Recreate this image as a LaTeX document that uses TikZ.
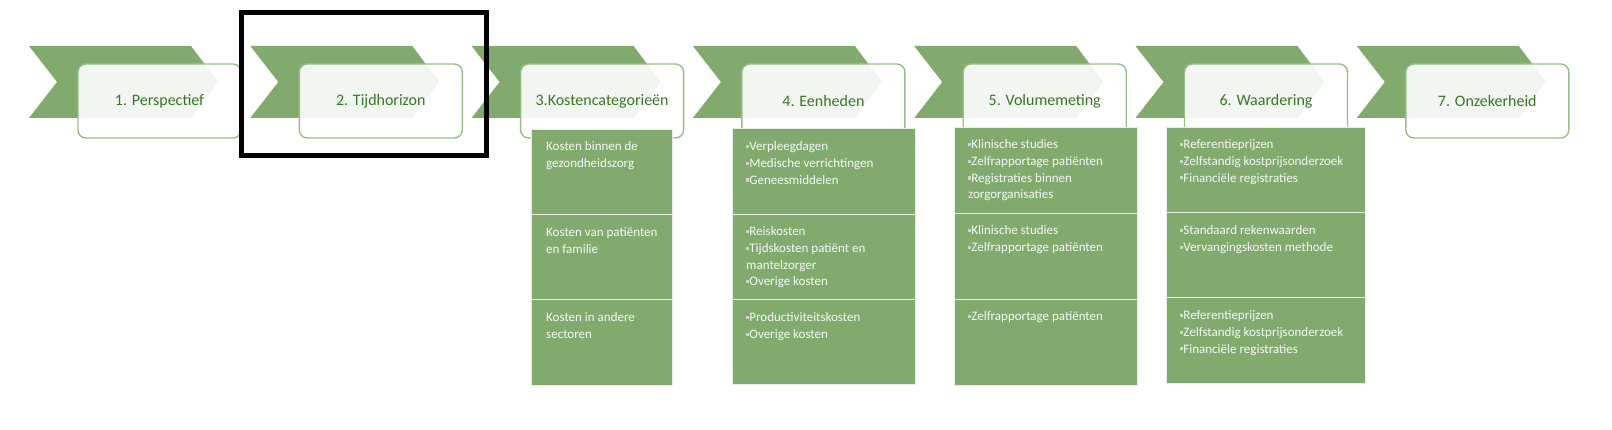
\documentclass[tikz,border=0pt]{standalone}
\usepackage{fontspec}
\setmainfont{Carlito}
\definecolor{pgreen}{HTML}{82AA6E}
\definecolor{tgreen}{HTML}{3A7628}
\definecolor{bgray}{HTML}{9CBB8C}
\newcommand\bl{{\color{white!55!pgreen}\rule[2.6pt]{3.2pt}{3.2pt}}}
\tikzset{
  chev/.style={fill=pgreen, draw=none},
  hbox/.style={draw=bgray, line width=1.4pt, rounded corners=8pt, fill=white, fill opacity=0.9, text opacity=1,
    minimum width=163pt, minimum height=74pt, inner sep=0pt, text=tgreen, font=\fontsize{16}{19}\selectfont},
  cell/.style={fill=pgreen, draw=white!80!pgreen, line width=1.2pt, anchor=north west, inner sep=0pt},
  ctext/.style={anchor=north west, inner sep=0pt, align=left, text=white!92!pgreen, font=\fontsize{13}{16.7}\selectfont},
  frame/.style={draw=black, line width=5pt}
}
\begin{document}
\begin{tikzpicture}[x=1pt,y=-1pt]
\useasboundingbox (0,0) rectangle (1612,430);
\fill[white] (0,0) rectangle (1612,430);
% chevrons
\foreach \k in {0,...,6}{
  \pgfmathsetmacro\L{29+221.3*\k}
  \fill[pgreen] (\L,46) -- ({\L+162},46) -- ({\L+189},82) -- ({\L+162},118) -- (\L,118) -- ({\L+28},82) -- cycle;
}
% heading boxes
\foreach \k/\t in {0/{1. Perspectief},1/{2. Tijdhorizon},2/{3.Kostencategorieën},3/{4. Eenheden},4/{5. Volumemeting},5/{6. Waardering},6/{7. Onzekerheid}}{
  \pgfmathsetmacro\C{159.5+221.3*\k}
  \node[hbox] (b\k) at (\C,101) {\t};
}
% column 3
\node[cell, minimum width=141pt, minimum height=85pt] (c31) at (531,129) {};
\node[cell, minimum width=141pt, minimum height=85pt] (c32) at (531,214) {};
\node[cell, minimum width=141pt, minimum height=86pt] (c33) at (531,299) {};
\node[ctext] (t31) at (546,141.5) {Kosten binnen de\\gezondheidszorg};
\node[ctext] (t32) at (546,227.5) {Kosten van patiënten\\en familie};
\node[ctext] (t33) at (546,312.5) {Kosten in andere\\sectoren};
% column 4
\node[cell, minimum width=183pt, minimum height=86pt] (c41) at (732,128) {};
\node[cell, minimum width=183pt, minimum height=85pt] (c42) at (732,214) {};
\node[cell, minimum width=183pt, minimum height=85pt] (c43) at (732,299) {};
\node[ctext] (t41) at (746,141.5) {\bl Verpleegdagen\\\bl Medische verrichtingen\\\bl Geneesmiddelen};
\node[ctext] (t42) at (746,226.5) {\bl Reiskosten\\\bl Tijdskosten patiënt en\\mantelzorger\\\bl Overige kosten};
\node[ctext] (t43) at (746,312.5) {\bl Productiviteitskosten\\\bl Overige kosten};
% column 5
\node[cell, minimum width=183pt, minimum height=86pt] (c51) at (954,127) {};
\node[cell, minimum width=183pt, minimum height=86pt] (c52) at (954,213) {};
\node[cell, minimum width=183pt, minimum height=86pt] (c53) at (954,299) {};
\node[ctext] (t51) at (968,139.5) {\bl Klinische studies\\\bl Zelfrapportage patiënten\\\bl Registraties binnen\\zorgorganisaties};
\node[ctext] (t52) at (968,225.5) {\bl Klinische studies\\\bl Zelfrapportage patiënten};
\node[ctext] (t53) at (968,311.5) {\bl Zelfrapportage patiënten};
% column 6
\node[cell, minimum width=199pt, minimum height=85pt] (c61) at (1166,127) {};
\node[cell, minimum width=199pt, minimum height=85pt] (c62) at (1166,212) {};
\node[cell, minimum width=199pt, minimum height=86pt] (c63) at (1166,297) {};
\node[ctext] (t61) at (1180,139.5) {\bl Referentieprijzen\\\bl Zelfstandig kostprijsonderzoek\\\bl Financiële registraties};
\node[ctext] (t62) at (1180,225.5) {\bl Standaard rekenwaarden\\\bl Vervangingskosten methode};
\node[ctext] (t63) at (1180,310.5) {\bl Referentieprijzen\\\bl Zelfstandig kostprijsonderzoek\\\bl Financiële registraties};
% highlight frame
\draw[frame] (241.5,12.5) rectangle (486.5,155.5);
\end{tikzpicture}
\end{document}
